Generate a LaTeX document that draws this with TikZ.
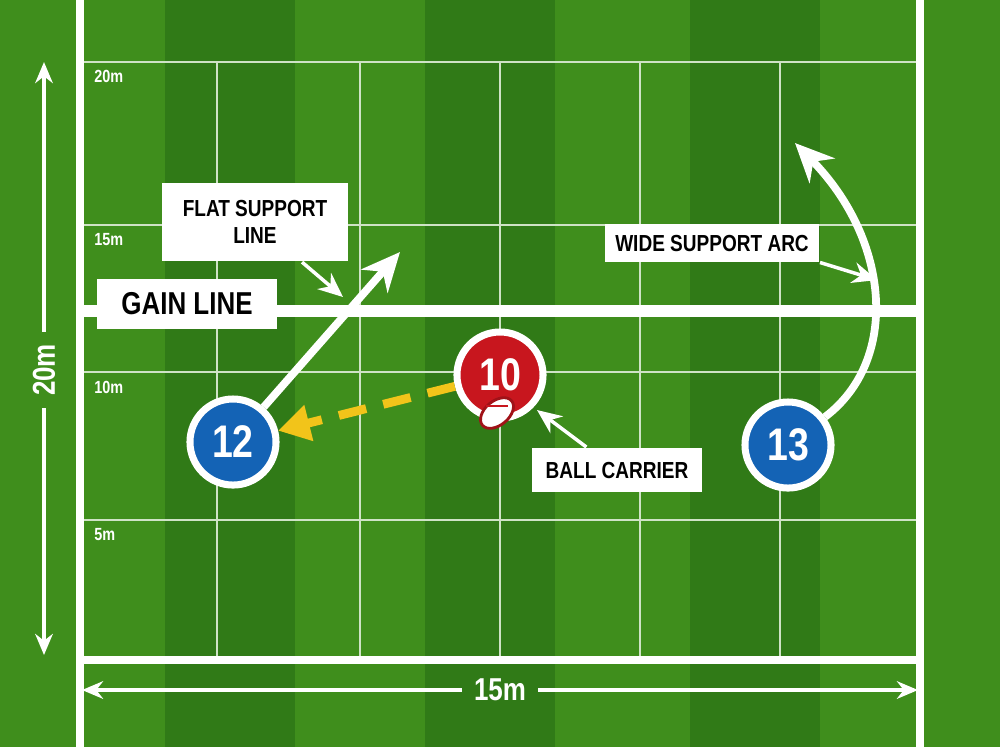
\documentclass[tikz,border=0pt]{standalone}
\usepackage{fontspec}
\setmainfont{Liberation Sans}
\newfontfamily\narrowfont[FakeStretch=0.82]{Liberation Sans}
\usetikzlibrary{arrows.meta,positioning,shapes.geometric}
\definecolor{grassA}{HTML}{3F8E1C}
\definecolor{grassB}{HTML}{307A17}
\definecolor{redP}{HTML}{C8161E}
\definecolor{blueP}{HTML}{1463B5}
\definecolor{passY}{HTML}{F2C41A}
\tikzset{
  player/.style={circle, draw=white, line width=2pt, minimum size=0.86cm, inner sep=0pt,
    text=white, font=\narrowfont\fontsize{13}{13}\selectfont\bfseries},
  tag/.style={fill=white, text=black, inner sep=3pt, align=center,
    font=\narrowfont\fontsize{6.6}{7.8}\selectfont\bfseries},
  distmark/.style={text=white, font=\narrowfont\fontsize{5}{5}\selectfont\bfseries, anchor=west},
  thin line/.style={white!75!grassA, line width=0.5pt},
  pointer/.style={white, line width=1pt, -{Stealth[length=7pt,width=6pt]}},
  run/.style={white, line width=2.2pt, -{Stealth[length=11pt,width=10pt]}},
}
\begin{document}
\begin{tikzpicture}[x=0.01cm,y=-0.01cm]
\useasboundingbox (0,0) rectangle (1000,747);
% grass stripes
\fill[grassA] (0,0) rectangle (1000,747);
\foreach \x in {165,425,690} \fill[grassB] (\x,0) rectangle +(130,747);
% grid
\foreach \y in {62,225,372,520} \draw[thin line] (80,\y) -- (920,\y);
\foreach \x in {217,360,500,640,780} \draw[thin line] (\x,62) -- (\x,660);
\draw[white, line width=2pt] (80,0) -- (80,747);
\draw[white, line width=2pt] (920,0) -- (920,747);
\draw[white, line width=2.5pt] (80,660) -- (920,660);
\draw[white, line width=3.5pt] (80,311) -- (920,311);
% distance marks
\node[distmark] (m20) at (82,76) {20m};
\node[distmark] (m15) at (82,240) {15m};
\node[distmark] (m10) at (82,387) {10m};
\node[distmark] (m5) at (82,535) {5m};
% dimension arrows
\node[text=white, rotate=90, font=\narrowfont\fontsize{9}{9}\selectfont\bfseries] (len) at (44,370) {20m};
\coordinate (lenT) at (44,62);
\coordinate (lenB) at (44,655);
\draw[white, line width=1pt, -{Stealth[length=6pt,width=5pt]}] (len) -- (lenT);
\draw[white, line width=1pt, -{Stealth[length=6pt,width=5pt]}] (len) -- (lenB);
\node[text=white, font=\narrowfont\fontsize{9}{9}\selectfont\bfseries] (wid) at (500,690) {15m};
\coordinate (widL) at (82,690);
\coordinate (widR) at (918,690);
\draw[white, line width=1pt, -{Stealth[length=6pt,width=5pt]}] (wid) -- (widL);
\draw[white, line width=1pt, -{Stealth[length=6pt,width=5pt]}] (wid) -- (widR);
% players
\node[player, fill=redP] (p10) at (500,375) {10};
\node[player, fill=blueP] (p12) at (233,442) {12};
\node[player, fill=blueP] (p13) at (788,445) {13};
\node[ellipse, draw=redP!80!black, fill=white, line width=0.8pt, minimum width=0.38cm,
  minimum height=0.24cm, inner sep=0pt, rotate=40] (ball) at (497,413) {};
\draw[redP, line width=0.4pt] ([yshift=2pt]ball.center) ++(-3pt,0) -- ++(6pt,0);
% runs
\coordinate (r12) at (400,252);
\coordinate (r13) at (795,143);
\draw[run] (p12) -- (r12);
\draw[run] (p13) .. controls (900,360) and (890,240) .. (r13);
\draw[passY, line width=2.5pt, dash pattern=on 8pt off 5pt, -{Triangle[length=9pt,width=10pt]}]
  (p10) -- (p12);
% labels
\node[tag, inner xsep=6pt, inner ysep=5pt] (flat) at (255,222) {FLAT SUPPORT\\LINE};
\node[tag, inner sep=4pt, inner xsep=7pt, font=\narrowfont\fontsize{9}{9}\selectfont\bfseries] (gain) at (187,304) {GAIN LINE};
\node[tag] (wide) at (712,243) {WIDE SUPPORT ARC};
\node[tag, inner sep=4pt] (carrier) at (617,470) {BALL CARRIER};
\coordinate (flatP) at (343,297);
\coordinate (wideP) at (877,280);
\coordinate (carrierP) at (537,410);
\draw[pointer] (flat) -- (flatP);
\draw[pointer] (wide.south east) -- (wideP);
\draw[pointer] (carrier) -- (carrierP);
\end{tikzpicture}
\end{document}
